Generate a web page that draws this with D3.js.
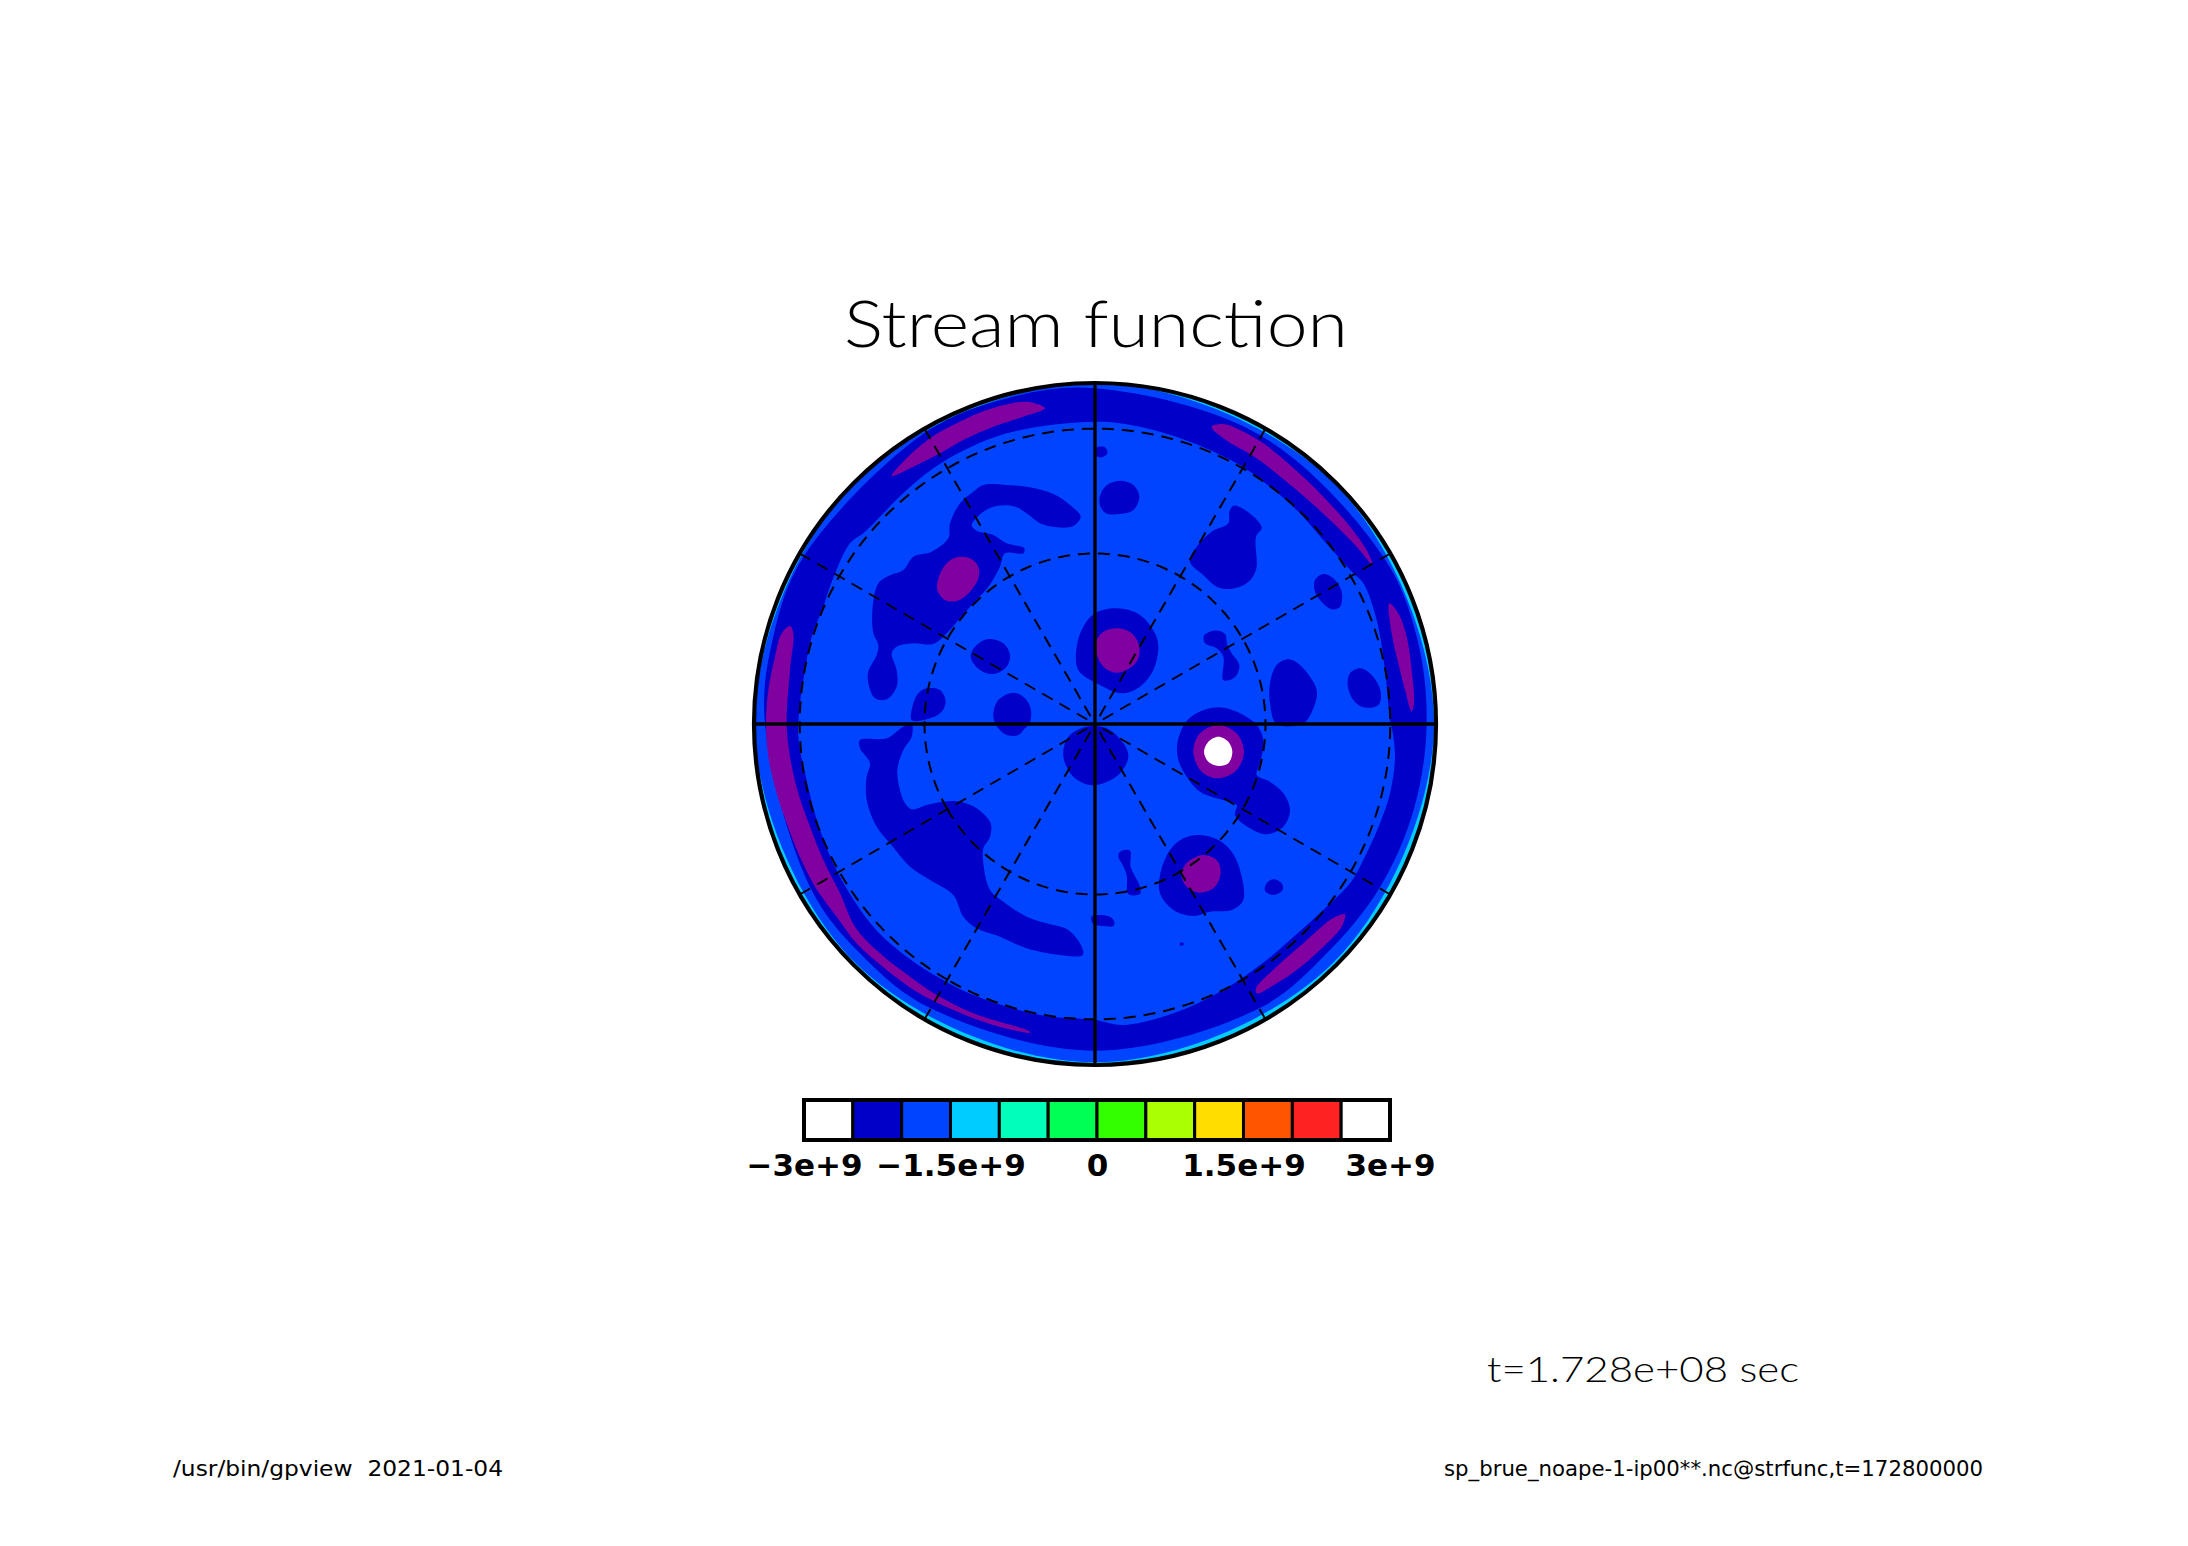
<!DOCTYPE html>
<html>
<head>
<meta charset="utf-8">
<script src="https://cdn.jsdelivr.net/npm/d3@7"></script>
<style>
  html, body { margin: 0; padding: 0; background: #fff; }
</style>
</head>
<body>
<div id="chart"></div>
<script>
// colour bar
const levels = [-3e9, -2.5e9, -2e9, -1.5e9, -1e9, -0.5e9, 0, 0.5e9, 1e9, 1.5e9, 2e9, 2.5e9, 3e9];
const levelColors = ['#ffffff', '#0000c8', '#0044ff', '#00ccff', '#00ffbb', '#00ff55',
  '#33ff00', '#aaff00', '#ffdd00', '#ff5500', '#ff2222', '#ffffff'];
const tickValues = [-3e9, -1.5e9, 0, 1.5e9, 3e9];
const tickLabels = ['\u22123e+9', '\u22121.5e+9', '0', '1.5e+9', '3e+9'];

// graticule
const parallels = [60, 30];
const dashedMeridians = [30, 60, 120, 150, 210, 240, 300, 330];
const solidMeridians = [0, 90, 180, 270];

// contours: x east, y north, disc radius = 1023
const discUnits = 1023;
// [bearing deg, radius] for the edge rings
const rimEdge = [[0, 1023], [45, 1018], [90, 1017], [135, 1012], [180, 1015], [225, 1015], [270, 1021], [315, 1023]];
const bandOuter = [[0, 1007], [30, 998], [60, 1000], [75, 1000], [90, 995], [105, 990], [120, 985], [135, 978],
  [150, 985], [180, 980], [210, 985], [225, 985], [240, 985], [270, 990], [285, 1000], [300, 1008], [330, 1012], [345, 1012]];
const bandInner = [[0, 907], [135, 892], [285, 847], [425, 782], [505, 727], [605, 642], [685, 552], [775, 452], [805, 422],
  [845, 312], [870, 162], [885, 12], [890, -8], [900, -98], [885, -208], [855, -298], [795, -428], [765, -478], [685, -558],
  [585, -648], [515, -708], [385, -798], [235, -868], [85, -903], [0, -888], [-165, -873], [-365, -813], [-465, -763],
  [-565, -698], [-665, -608], [-765, -458], [-825, -318], [-870, -148], [-890, -38], [-885, 62], [-870, 162], [-850, 262],
  [-815, 352], [-795, 412], [-735, 542], [-695, 572], [-565, 702], [-455, 787], [-265, 872]];

const darkBlobs = [
  [[-335, 717], [-265, 717], [-195, 710], [-125, 690], [-75, 657], [-43, 622], [-65, 594], [-115, 590], [-165, 602], [-205, 632],
   [-240, 652], [-295, 654], [-335, 637], [-370, 597], [-355, 580], [-305, 567], [-265, 542], [-212, 527], [-215, 512], [-270, 512],
   [-285, 472], [-320, 412], [-365, 362], [-405, 317], [-445, 272], [-485, 240], [-545, 242], [-595, 232], [-610, 212], [-595, 162],
   [-595, 112], [-625, 74], [-660, 77], [-680, 122], [-680, 157], [-655, 207], [-650, 237], [-665, 272], [-667, 352], [-650, 422],
   [-620, 444], [-575, 462], [-545, 502], [-490, 517], [-440, 557], [-435, 602], [-405, 662], [-365, 697]],
  [[-320, 255], [-275, 242], [-255, 207], [-265, 172], [-305, 150], [-345, 162], [-373, 202], [-355, 237]],
  [[-505, 107], [-465, 102], [-448, 67], [-465, 32], [-515, 12], [-550, 12], [-545, 62], [-530, 92]],
  [[-245, 94], [-210, 77], [-192, 42], [-197, 0], [-210, -13], [-230, -33], [-265, -33], [-290, -13], [-303, 12], [-305, 32], [-290, 72]],
  [[65, 347], [135, 327], [180, 272], [190, 232], [175, 162], [135, 112], [80, 92], [15, 117], [-50, 162], [-55, 232], [-35, 292], [0, 332]],
  [[5, 830], [30, 830], [37, 812], [20, 800], [0, 807]],
  [[75, 730], [115, 717], [133, 682], [115, 642], [75, 630], [30, 634], [13, 667], [30, 712]],
  [[415, 655], [450, 642], [500, 590], [483, 562], [483, 462], [455, 422], [405, 405], [365, 412], [325, 447], [285, 487], [305, 532], [350, 577], [400, 602], [403, 637]],
  [[685, 450], [715, 437], [740, 397], [735, 352], [710, 344], [675, 372], [660, 397], [660, 432]],
  [[357, 280], [390, 270], [397, 237], [410, 212], [433, 177], [425, 147], [405, 132], [385, 132], [385, 202], [365, 227], [330, 242], [327, 265]],
  [[580, 194], [615, 177], [665, 102], [655, 47], [625, 2], [545, 0], [525, 62], [525, 122], [545, 177]],
  [[795, 167], [830, 147], [857, 97], [850, 57], [805, 50], [775, 72], [758, 117], [765, 152]],
  [[370, 50], [435, 32], [485, -3], [505, -48], [495, -118], [485, -153], [525, -173], [565, -208], [585, -258], [565, -308], [515, -331],
   [465, -313], [420, -273], [425, -243], [365, -223], [315, -203], [275, -158], [250, -108], [247, -58], [270, 2], [305, 32]],
  [[315, -333], [370, -348], [410, -383], [435, -438], [445, -528], [410, -558], [345, -563], [295, -576], [235, -558], [195, -508], [195, -453], [225, -378], [265, -343]],
  [[535, -466], [560, -478], [563, -498], [535, -513], [510, -500], [515, -478]],
  [[75, -383], [105, -380], [107, -428], [135, -488], [135, -510], [100, -510], [95, -453], [80, -418], [70, -398]],
  [[10, -573], [45, -578], [58, -593], [55, -606], [25, -606], [-5, -600], [-10, -578]],
  [[35, -13], [85, -58], [100, -98], [75, -148], [25, -178], [-15, -183], [-65, -158], [-95, -98], [-80, -38], [-25, -8]],
  [[255, -657], [265, -657], [265, -664], [255, -664]],
  [[-705, -48], [-625, -43], [-575, -8], [-550, 0], [-550, -38], [-575, -78], [-593, -138], [-585, -198], [-570, -238], [-550, -256], [-505, -243],
   [-455, -233], [-405, -233], [-355, -253], [-313, -298], [-315, -338], [-335, -373], [-335, -418], [-315, -498], [-275, -533], [-205, -578],
   [-145, -598], [-80, -618], [-40, -668], [-37, -693], [-105, -693], [-205, -673], [-285, -638], [-355, -613], [-395, -578], [-425, -513],
   [-495, -468], [-555, -428], [-615, -358], [-655, -308], [-685, -228], [-685, -158], [-675, -118], [-705, -73]]
];

const purpleBlobs = [
  [[-415, 500], [-375, 497], [-350, 472], [-350, 437], [-375, 397], [-415, 369], [-450, 372], [-473, 402], [-468, 442], [-445, 482]],
  [[70, 287], [110, 272], [133, 232], [125, 187], [70, 154], [25, 172], [5, 212], [5, 252], [25, 277]],
  [[370, -3], [425, -28], [447, -83], [425, -138], [370, -163], [320, -143], [295, -83], [315, -28]],
  [[325, -393], [365, -408], [377, -443], [360, -488], [315, -506], [280, -493], [260, -458], [270, -423], [295, -403]],
  [[-610, 744], [-565, 797], [-495, 857], [-415, 902], [-325, 942], [-215, 967], [-180, 962], [-150, 947], [-215, 922], [-305, 892], [-385, 857], [-465, 812], [-545, 772]],
  [[-915, 294], [-905, 272], [-915, 162], [-925, 2], [-915, -98], [-890, -208], [-855, -308], [-815, -408], [-765, -508], [-720, -608], [-645, -688], [-555, -758],
   [-475, -813], [-365, -868], [-195, -923], [-195, -926], [-305, -903], [-425, -858], [-535, -803], [-625, -738], [-715, -658], [-775, -578], [-840, -488], [-890, -388],
   [-925, -298], [-955, -208], [-980, -98], [-987, 2], [-980, 102], [-960, 202], [-940, 272]],
  [[350, 892], [385, 900], [435, 882], [505, 842], [585, 777], [685, 682], [765, 592], [815, 522], [833, 477], [785, 532], [705, 612], [605, 702], [485, 797], [385, 857]],
  [[883, 362], [910, 332], [935, 262], [950, 162], [957, 62], [950, 37], [930, 102], [910, 182], [890, 272]],
  [[750, -570], [740, -608], [685, -668], [605, -738], [545, -778], [485, -808], [483, -793], [545, -728], [625, -658], [705, -588], [735, -573]]
];

const whiteBlobs = [
  [[370, -38], [400, -53], [412, -83], [400, -118], [370, -126], [340, -113], [327, -83], [340, -53]]
];

const width = 2188, height = 1546;
const cx = 1095, cy = 724, radius = 341;
const darkBlue = '#0000c8', midBlue = '#0044ff', purple = '#8000a0', rimCyan = '#00ccff';

const svg = d3.select('#chart').append('svg')
  .attr('width', width)
  .attr('height', height)
  .style('display', 'block');

const x = d3.scaleLinear().domain([-discUnits, discUnits]).range([cx - radius, cx + radius]);
const y = d3.scaleLinear().domain([-discUnits, discUnits]).range([cy + radius, cy - radius]);

const projection = d3.geoOrthographic()
  .rotate([0, -90, 0])
  .scale(radius)
  .translate([cx, cy])
  .clipAngle(90.01);
const geoPath = d3.geoPath(projection);

const outline = d3.line().x(d => x(d[0])).y(d => y(d[1])).curve(d3.curveCatmullRomClosed.alpha(0.5));
const fromPolar = d => [d[1] * Math.sin(d[0] * Math.PI / 180), d[1] * Math.cos(d[0] * Math.PI / 180)];

svg.append('clipPath').attr('id', 'disc')
  .append('circle').attr('cx', cx).attr('cy', cy).attr('r', radius);

const field = svg.append('g').attr('clip-path', 'url(#disc)');

field.append('circle').attr('cx', cx).attr('cy', cy).attr('r', radius).attr('fill', rimCyan);
field.append('path').attr('d', outline(rimEdge.map(fromPolar))).attr('fill', midBlue);
field.append('path')
  .attr('d', outline(bandOuter.map(fromPolar)) + outline(bandInner))
  .attr('fill', darkBlue)
  .attr('fill-rule', 'evenodd');

const drawBlobs = (blobs, color) => field.append('g').selectAll('path')
  .data(blobs)
  .enter().append('path')
  .attr('d', outline)
  .attr('fill', color);

drawBlobs(darkBlobs, darkBlue);
drawBlobs(purpleBlobs, purple);
drawBlobs(whiteBlobs, '#ffffff');

// graticule
const gridLines = svg.append('g').attr('fill', 'none').attr('stroke', '#000');
gridLines.selectAll('.parallel')
  .data(parallels)
  .enter().append('path')
  .attr('class', 'parallel')
  .attr('d', d => geoPath(d3.geoCircle().center([0, 90]).radius(90 - d).precision(2)()))
  .attr('stroke-width', 2)
  .attr('stroke-dasharray', '12 8');
gridLines.selectAll('.dashed')
  .data(dashedMeridians)
  .enter().append('path')
  .attr('class', 'dashed')
  .attr('d', d => geoPath({ type: 'LineString', coordinates: [[d, 0], [d, 90]] }))
  .attr('stroke-width', 2)
  .attr('stroke-dasharray', '12 8');
gridLines.selectAll('.solid')
  .data(solidMeridians)
  .enter().append('path')
  .attr('class', 'solid')
  .attr('d', d => geoPath({ type: 'LineString', coordinates: [[d, 0], [d, 90]] }))
  .attr('stroke-width', 3.4);
gridLines.append('circle')
  .attr('cx', cx).attr('cy', cy).attr('r', radius)
  .attr('stroke-width', 4.2);

// colour bar
const barTop = 1100, barHeight = 40;
const barX = d3.scaleLinear().domain([-3e9, 3e9]).range([804, 1390]);
const bar = svg.append('g');
bar.selectAll('rect')
  .data(levelColors)
  .enter().append('rect')
  .attr('x', (d, i) => barX(levels[i]))
  .attr('y', barTop)
  .attr('width', (d, i) => barX(levels[i + 1]) - barX(levels[i]))
  .attr('height', barHeight)
  .attr('fill', d => d)
  .attr('stroke', '#000')
  .attr('stroke-width', 3);
bar.append('rect')
  .attr('x', barX(-3e9)).attr('y', barTop)
  .attr('width', barX(3e9) - barX(-3e9)).attr('height', barHeight)
  .attr('fill', 'none').attr('stroke', '#000').attr('stroke-width', 4);

const axis = svg.append('g')
  .attr('transform', `translate(0,${barTop + barHeight})`)
  .call(d3.axisBottom(barX).tickValues(tickValues).tickSize(0).tickPadding(14).tickFormat((d, i) => tickLabels[i]));
axis.select('.domain').remove();
axis.selectAll('text')
  .attr('fill', '#000')
  .style('font-family', '"DejaVu Sans"')
  .style('font-weight', 'bold')
  .style('font-size', '31px');

// labels
const addText = (str, px, py, size, len, anchor, weight, family) => svg.append('text')
  .attr('x', px).attr('y', py)
  .attr('text-anchor', anchor)
  .attr('textLength', len)
  .attr('lengthAdjust', 'spacingAndGlyphs')
  .style('font-family', family)
  .style('font-size', size + 'px')
  .style('font-weight', weight)
  .text(str);

addText('Stream function', 844, 347, 66, 504, 'start', 300, 'Lato');
addText('t=1.728e+08 sec', 1487, 1382, 35, 312, 'start', 300, 'Lato');
addText('/usr/bin/gpview  2021-01-04', 173, 1476, 21, 330, 'start', 400, '"DejaVu Sans"').attr('xml:space', 'preserve');
addText('sp_brue_noape-1-ip00**.nc@strfunc,t=172800000', 1444, 1476, 21, 539, 'start', 400, '"DejaVu Sans"');
</script>
</body>
</html>
